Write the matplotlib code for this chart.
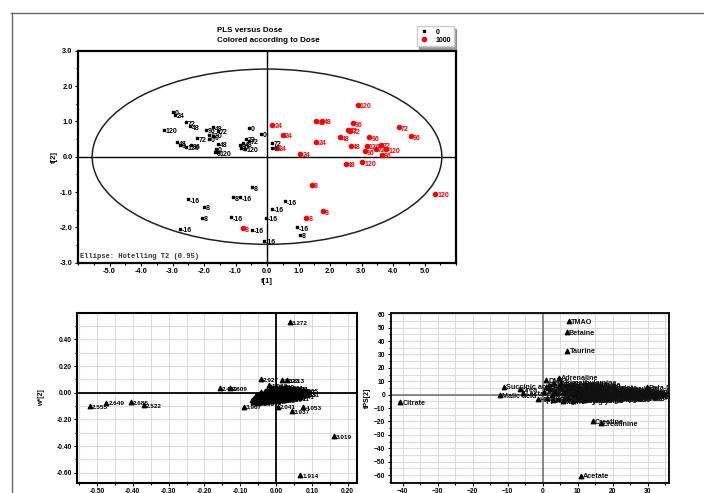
import matplotlib
matplotlib.use("Agg")
import matplotlib.pyplot as plt
from matplotlib.patches import Ellipse
from matplotlib.lines import Line2D
from matplotlib.ticker import MultipleLocator, FormatStrFormatter

plt.rcParams['font.family'] = ['Liberation Sans', 'DejaVu Sans']

# ---- scores plot (t[1] vs t[2]), dose 0 ----
t1_ctrl = [-2.98, -2.92, -2.57, -2.44, -3.27, -2.85, -2.75, -2.57, -2.40, -2.22,
           -1.93, -1.72, -1.56, -1.83, -1.71, -1.83, -1.54, -1.62, -1.66, -1.55,
           -0.58, -0.18, -0.66, -0.57, -0.86, -0.76, -0.69, -0.84, 0.16, 0.16,
           -0.47, -2.51, -2.00, -1.08, -0.87, 0.56, 0.16, -2.07, -1.13, -0.04,
           -2.76, -0.47, 0.94, 1.06, -0.10]
t2_ctrl = [1.26, 1.18, 0.97, 0.86, 0.76, 0.41, 0.34, 0.27, 0.32, 0.52,
           0.76, 0.83, 0.74, 0.62, 0.58, 0.50, 0.36, 0.22, 0.12, 0.12,
           0.81, 0.64, 0.50, 0.45, 0.32, 0.38, 0.22, 0.25, 0.40, 0.26,
           -0.87, -1.21, -1.41, -1.15, -1.15, -1.26, -1.48, -1.74, -1.72, -1.74,
           -2.05, -2.07, -2.00, -2.21, -2.38]
lab_ctrl = ["0", "24", "72", "48", "120", "48", "0", "120", "96", "72",
            "96", "48", "72", "120", "0", "0", "48", "0", "0", "120",
            "0", "0", "72", "72", "96", "48", "120", "0", "72", "0",
            "8", "-16", "8", "8", "-16", "-16", "-16", "8", "-16", "-16",
            "-16", "-16", "-16", "8", "-16"]

# ---- dose 1000 ----
t1_dose = [2.88, 1.54, 1.75, 2.72, 2.56, 2.65, 4.19, 4.57, 0.17, 0.51,
           1.57, 0.32, 1.06, 2.32, 3.25, 2.67, 3.17, 3.61, 3.46, 3.78,
           3.11, 3.64, 2.51, 3.03, 1.43, 5.34, 1.78, 1.25, -0.76]
t2_dose = [1.46, 1.00, 1.02, 0.94, 0.76, 0.74, 0.83, 0.58, 0.91, 0.62,
           0.43, 0.25, 0.09, 0.55, 0.55, 0.30, 0.30, 0.34, 0.22, 0.21,
           0.15, 0.05, -0.21, -0.16, -0.80, -1.06, -1.55, -1.74, -2.03]
lab_dose = ["120", "48", "48", "96", "72", "72", "72", "96", "24", "24",
            "24", "24", "24", "48", "96", "48", "120", "72", "72", "120",
            "96", "96", "48", "120", "8", "120", "8", "8", "8"]

# ---- loadings, ppm bins ----
w1_out = [-0.520, -0.474, -0.406, -0.369, 0.039, -0.157, -0.130, -0.043, 0.016, 0.030,
          -0.089, 0.004, 0.076, 0.044, 0.162, 0.067, -0.019, 0.068, 0.072]
w2_out = [-0.100, -0.075, -0.072, -0.092, 0.528, 0.033, 0.033, 0.100, 0.095, 0.095,
          -0.105, -0.105, -0.110, -0.137, -0.325, -0.617, 0.058, 0.018, -0.010]
lab_out = ["2.555", "2.649", "2.685", "2.522", "3.272", "2.489", "2.609", "2.927", "3.023", "3.613",
           "3.967", "2.041", "4.053", "3.937", "3.019", "1.914", "1.933", "7.365", "2.031"]

w1_blob = [-0.068, -0.064, -0.061, -0.058, -0.056, -0.053, -0.051, -0.049, -0.046, -0.044,
           -0.042, -0.040, -0.037, -0.035, -0.033, -0.031, -0.029, -0.027, -0.025, -0.023,
           -0.021, -0.019, -0.017, -0.015, -0.013, -0.011, -0.009, -0.007, -0.005, -0.003,
           -0.001, 0.001, 0.003, 0.005, 0.007, 0.009, 0.011, 0.013, 0.015, 0.017,
           0.019, 0.021, 0.023, 0.025, 0.027, 0.029, 0.031, 0.033, 0.035, 0.037,
           0.039, 0.041, 0.043, 0.045, 0.047, 0.050, 0.053, 0.056, 0.060, 0.064,
           -0.028, -0.022, -0.016, -0.010, -0.004, 0.002, 0.008, 0.014, 0.020, 0.026,
           0.032, 0.038, 0.044, -0.025, -0.013, -0.001, 0.011, 0.023, 0.035, 0.047,
           -0.019, -0.007, 0.005, 0.017, 0.029]
w2_blob = [-0.052, -0.071, -0.040, -0.060, -0.020, -0.078, -0.045, -0.010, -0.065, -0.030,
           0.005, -0.055, -0.018, -0.072, -0.035, 0.012, -0.050, -0.025, 0.020, -0.062,
           -0.008, -0.040, 0.030, -0.015, -0.055, 0.002, 0.038, -0.030, -0.045, 0.015,
           -0.020, 0.045, -0.005, -0.060, 0.025, -0.035, 0.008, -0.048, 0.035, -0.012,
           -0.028, 0.018, -0.052, 0.003, 0.040, -0.038, -0.015, 0.022, -0.045, 0.010,
           -0.025, 0.030, -0.008, -0.040, 0.015, -0.020, 0.005, -0.030, 0.012, -0.010,
           0.010, -0.030, 0.025, -0.012, 0.030, -0.035, 0.018, -0.022, 0.028, -0.005,
           -0.032, 0.020, -0.018, -0.040, 0.042, 0.012, -0.042, -0.010, 0.035, 0.000,
           -0.002, -0.018, 0.008, 0.025, -0.025]
lab_blob = ["3.331", "3.255", "3.409", "3.485", "3.531", "3.563", "3.591", "3.641", "3.683", "3.717",
            "3.751", "3.787", "3.821", "3.851", "3.885", "3.909", "4.107", "4.135", "4.239", "1.332",
            "1.476", "1.485", "2.151", "2.239", "2.285", "2.363", "2.409", "2.447", "2.735", "2.771",
            "2.807", "2.859", "2.885", "3.065", "3.105", "3.145", "3.189", "3.219", "3.365", "3.441",
            "3.467", "3.507", "3.619", "3.665", "3.701", "3.767", "3.805", "3.931", "3.991", "4.017",
            "4.073", "4.101", "4.165", "4.201", "4.305", "7.425", "7.545", "7.641", "7.837", "8.465",
            "1.201", "1.265", "1.389", "1.911", "2.093", "2.131", "2.195", "2.319", "2.565", "2.711",
            "2.955", "3.045", "3.125", "3.245", "3.305", "3.385", "3.547", "3.611", "3.733", "3.961",
            "4.047", "4.281", "5.231", "6.905", "7.155"]

# ---- loadings, assigned metabolites ----
p1_out = [7.6, 6.9, 7.1, -40.6, 14.3, 16.6, 10.9, -11.1, -12.1, -6.5,
          -5.5, -1.4, 1.1, 4.6, 0.9, 29.7, 33.8]
p2_out = [54.8, 46.6, 32.8, -5.7, -19.9, -21.4, -60.4, 6.0, -0.2, 4.0,
          1.0, -3.2, 11.0, 12.7, 5.9, 5.5, 2.0]
lab_pout = ["TMAO", "Betaine", "Taurine", "Citrate", "Creatine", "Creatinine", "Acetate",
            "Succinic acid", "Malic acid", "Urea", "Lactate", "Hippurate", "DMA",
            "Adrenaline", "Pyruvate", "Beta-D-galactose", "Glucuronate"]

p1_blob = [0.5, 1.2, 1.8, 2.3, 2.9, 3.4, 3.9, 4.5, 5.0, 5.4,
           5.9, 6.3, 6.8, 7.2, 7.7, 8.1, 8.6, 9.0, 9.5, 10.0,
           10.4, 10.9, 11.3, 11.8, 12.3, 12.8, 13.3, 13.8, 14.3, 14.9,
           15.4, 15.9, 16.5, 17.0, 17.6, 18.2, 18.8, 19.4, 20.0, 20.7,
           21.4, 22.1, 22.8, 23.5, 24.3, 25.0, 25.8, 26.6, 27.4, 28.2,
           29.0, 29.8, 30.6, 31.4, 32.2, 33.0,
           1.5, 2.6, 3.6, 4.8, 5.7, 6.5, 7.4, 8.3, 9.3, 10.2,
           11.1, 12.0, 13.0, 14.0, 15.1, 16.2, 17.3, 18.5, 19.7, 21.0,
           22.4, 23.8, 25.4, 27.0, 28.8]
p2_blob = [2.0, -2.5, 7.5, 4.0, -4.0, 8.5, 1.0, -3.5, 6.0, 9.0,
           -5.0, 3.0, 7.0, -2.0, 5.0, 0.5, -4.5, 8.0, 2.5, -3.0,
           6.5, -1.0, 4.5, -4.0, 7.0, 1.5, -2.5, 5.5, 0.0, -3.5,
           4.0, 6.0, -2.0, 2.0, -3.5, 5.0, 0.5, -2.5, 3.5, -1.5,
           1.0, -3.0, 4.0, -1.0, 2.0, -2.0, 3.0, 0.0, -2.5, 1.5,
           -1.0, 2.5, -0.5, 1.0, -1.5, 0.5,
           5.0, 0.0, 3.0, 6.5, 2.0, -1.5, 4.0, 6.5, -0.5, 3.5,
           1.5, 5.5, -2.5, 3.0, -1.0, 1.5, 3.5, -1.0, 1.5, 3.5,
           0.5, 1.5, -0.5, 2.0, 0.0]
lab_pblob = ["Alanine", "Glycine", "N,N-Dimethylglycine", "Glutamine", "Phenylacetylglycine", "Dimethylamine",
             "Glutamate", "Threonine", "Allantoin", "Trimethylamine", "Valine", "Formate", "Fumarate",
             "Leucine", "Isoleucine", "Tyrosine", "Phenylalanine", "Sarcosine", "Histidine", "Methionine",
             "Lysine", "Arginine", "Ornithine", "Choline", "Glucose", "Alpha-D-glucose", "Acetone",
             "Acetoacetate", "3-Hydroxybutyrate", "Guanidoacetate", "Myo-inositol", "Uracil", "Uridine",
             "Nicotinamide", "Trigonelline", "Indoxyl sulfate", "Benzoate", "2-Oxoglutarate", "Citrulline",
             "Carnitine", "Acetylcarnitine", "Glycerol", "Ethanol", "Methanol", "Xanthine", "Hypoxanthine",
             "Inosine", "Adenosine", "Proline", "Serine", "Asparagine", "Aspartate", "Kynurenate",
             "Nicotinate", "Anserine", "Carnosine",
             "Cytidine", "Glutathione", "Pantothenate", "Riboflavin", "Spermidine", "Putrescine",
             "Cadaverine", "Taurocholate", "Isovalerate", "Butyrate", "Propionate", "Isobutyrate",
             "Malonate", "Oxalate", "Maleate", "Tartrate", "Galactose", "Fructose", "Sucrose",
             "Mannitol", "Xylose", "Arabinose", "Ribose", "Dimethylsulfone", "Methylamine"]

W, H = 704, 493
fig = plt.figure(figsize=(W / 100, H / 100), dpi=100)

def fx(px):
    return px / W

def fy(py):
    return 1 - py / H

# page frame lines from the scan
fig.add_artist(Line2D([fx(11), 1.0], [fy(13), fy(13)], color='#666666', lw=1.0))
fig.add_artist(Line2D([fx(12), fx(12)], [fy(13), 0.0], color='#666666', lw=1.0))

bold5 = dict(fontsize=5, fontweight='bold')

# ---------- top: scores ----------
ax = fig.add_axes([fx(78), fy(262.7), fx(456) - fx(78), fy(50.7) - fy(262.7)])
ax.set_xlim(-6, 6)
ax.set_ylim(-3, 3)
ax.axhline(0, color='black', lw=1.0, zorder=1)
ax.axvline(0, color='black', lw=1.0, zorder=1)
ax.add_patch(Ellipse((0, 0), 2 * 5.55, 2 * 2.48, fill=False, color='#222222', lw=1.1))

ax.scatter(t1_ctrl, t2_ctrl, marker='s', s=3.5, color='black', zorder=3)
ax.scatter(t1_dose, t2_dose, marker='o', s=9, color='#ff0000', zorder=3)
for x, y, s in zip(t1_ctrl, t2_ctrl, lab_ctrl):
    ax.annotate(s, (x, y), xytext=(1.2, -1.3), textcoords='offset points',
                va='center', ha='left', color='black', **bold5)
for x, y, s in zip(t1_dose, t2_dose, lab_dose):
    ax.annotate(s, (x, y), xytext=(1.5, -1.3), textcoords='offset points',
                va='center', ha='left', color='#ff0000', **bold5)

ax.set_xticks(range(-5, 6))
ax.set_yticks(range(-3, 4))
ax.xaxis.set_major_formatter(FormatStrFormatter('%.1f'))
ax.yaxis.set_major_formatter(FormatStrFormatter('%.1f'))
ax.xaxis.set_minor_locator(MultipleLocator(0.5))
ax.yaxis.set_minor_locator(MultipleLocator(0.5))
ax.tick_params(which='both', direction='out', width=0.8, labelsize=5.3, pad=1.5)
ax.tick_params(which='major', length=2.5)
ax.tick_params(which='minor', length=1.5)
for lab in ax.get_xticklabels() + ax.get_yticklabels():
    lab.set_fontweight('bold')
for sp in ax.spines.values():
    sp.set_linewidth(1.6)
ax.set_xlabel('t[1]', fontsize=5.5, fontweight='bold', labelpad=2)
ax.set_ylabel('t[2]', fontsize=5.5, fontweight='bold', labelpad=1)
ax.text(0.004, 0.02, 'Ellipse: Hotelling T2 (0.95)', transform=ax.transAxes,
        family='Liberation Mono', fontsize=5.1, fontweight='bold', color='#333333')

fig.text(fx(217), fy(30), 'PLS versus Dose', fontsize=5.8, fontweight='bold', va='center')
fig.text(fx(217), fy(40.5), 'Colored according to Dose', fontsize=5.8, fontweight='bold', va='center')

handles = [Line2D([], [], marker='s', ls='', color='black', markersize=2),
           Line2D([], [], marker='o', ls='', color='#ff0000', markersize=3)]
leg = fig.legend(handles, ['0', '1000'], loc='upper right',
                 bbox_to_anchor=(fx(457), fy(23)), frameon=True, fancybox=False,
                 shadow=True, edgecolor='#cccccc', framealpha=1,
                 prop={'size': 5, 'weight': 'bold'}, handlelength=1.6,
                 handletextpad=0.8, borderpad=0.35, labelspacing=0.1)

# ---------- bottom left: ppm loadings ----------
ax2 = fig.add_axes([fx(77.3), fy(482.7), fx(356.7) - fx(77.3), fy(313.3) - fy(482.7)])
ax2.set_xlim(-0.555, 0.225)
ax2.set_ylim(-0.675, 0.596)
ax2.xaxis.set_major_locator(MultipleLocator(0.1))
ax2.xaxis.set_minor_locator(MultipleLocator(0.05))
ax2.yaxis.set_major_locator(MultipleLocator(0.2))
ax2.yaxis.set_minor_locator(MultipleLocator(0.1))
ax2.xaxis.set_major_formatter(FormatStrFormatter('%.2f'))
ax2.yaxis.set_major_formatter(FormatStrFormatter('%.2f'))
ax2.grid(which='both', color='#dddddd', lw=0.8, zorder=0)
ax2.set_axisbelow(True)
ax2.axhline(0, color='black', lw=1.3, zorder=1)
ax2.axvline(0, color='black', lw=1.3, zorder=1)
ax2.scatter(w1_out + w1_blob, w2_out + w2_blob, marker='^', s=10, color='black', zorder=3)
for x, y, s in zip(w1_out + w1_blob, w2_out + w2_blob, lab_out + lab_blob):
    ax2.annotate(s, (x, y), xytext=(1.5, -0.8), textcoords='offset points',
                 va='center', ha='left', fontsize=4.6, fontweight='bold', color='black')
ax2.tick_params(which='both', direction='out', width=0.8, labelsize=4.8, pad=1.5)
ax2.tick_params(which='major', length=2.5)
ax2.tick_params(which='minor', length=1.5)
for lab in ax2.get_xticklabels() + ax2.get_yticklabels():
    lab.set_fontweight('bold')
for sp in ax2.spines.values():
    sp.set_linewidth(1.5)
ax2.set_ylabel('w*[2]', fontsize=5, fontweight='bold', labelpad=8)

# ---------- bottom right: metabolite loadings ----------
ax3 = fig.add_axes([fx(390.7), fy(482.7), fx(669.3) - fx(390.7), fy(313.3) - fy(482.7)])
ax3.set_xlim(-43.4, 36.2)
ax3.set_ylim(-65.7, 60.7)
ax3.xaxis.set_major_locator(MultipleLocator(10))
ax3.xaxis.set_minor_locator(MultipleLocator(5))
ax3.yaxis.set_major_locator(MultipleLocator(10))
ax3.yaxis.set_minor_locator(MultipleLocator(5))
ax3.grid(which='both', color='#dddddd', lw=0.8, zorder=0)
ax3.set_axisbelow(True)
ax3.axhline(0, color='#777777', lw=1.2, zorder=1)
ax3.axvline(0, color='#777777', lw=1.2, zorder=1)
ax3.scatter(p1_out + p1_blob, p2_out + p2_blob, marker='^', s=10, color='black', zorder=3)
for x, y, s in zip(p1_out + p1_blob, p2_out + p2_blob, lab_pout + lab_pblob):
    ax3.annotate(s, (x, y), xytext=(1.5, -0.8), textcoords='offset points',
                 va='center', ha='left', fontsize=5.2, fontweight='bold', color='#111111',
                 annotation_clip=True, clip_on=True)
ax3.tick_params(which='both', direction='out', width=0.8, labelsize=4.8, pad=1.5)
ax3.tick_params(which='major', length=2.5)
ax3.tick_params(which='minor', length=1.5)
for lab in ax3.get_xticklabels() + ax3.get_yticklabels():
    lab.set_fontweight('bold')
for sp in ax3.spines.values():
    sp.set_linewidth(1.3)
ax3.set_ylabel('tPS[2]', fontsize=5, fontweight='bold', labelpad=2)

fig.savefig('out.png', dpi=100)
